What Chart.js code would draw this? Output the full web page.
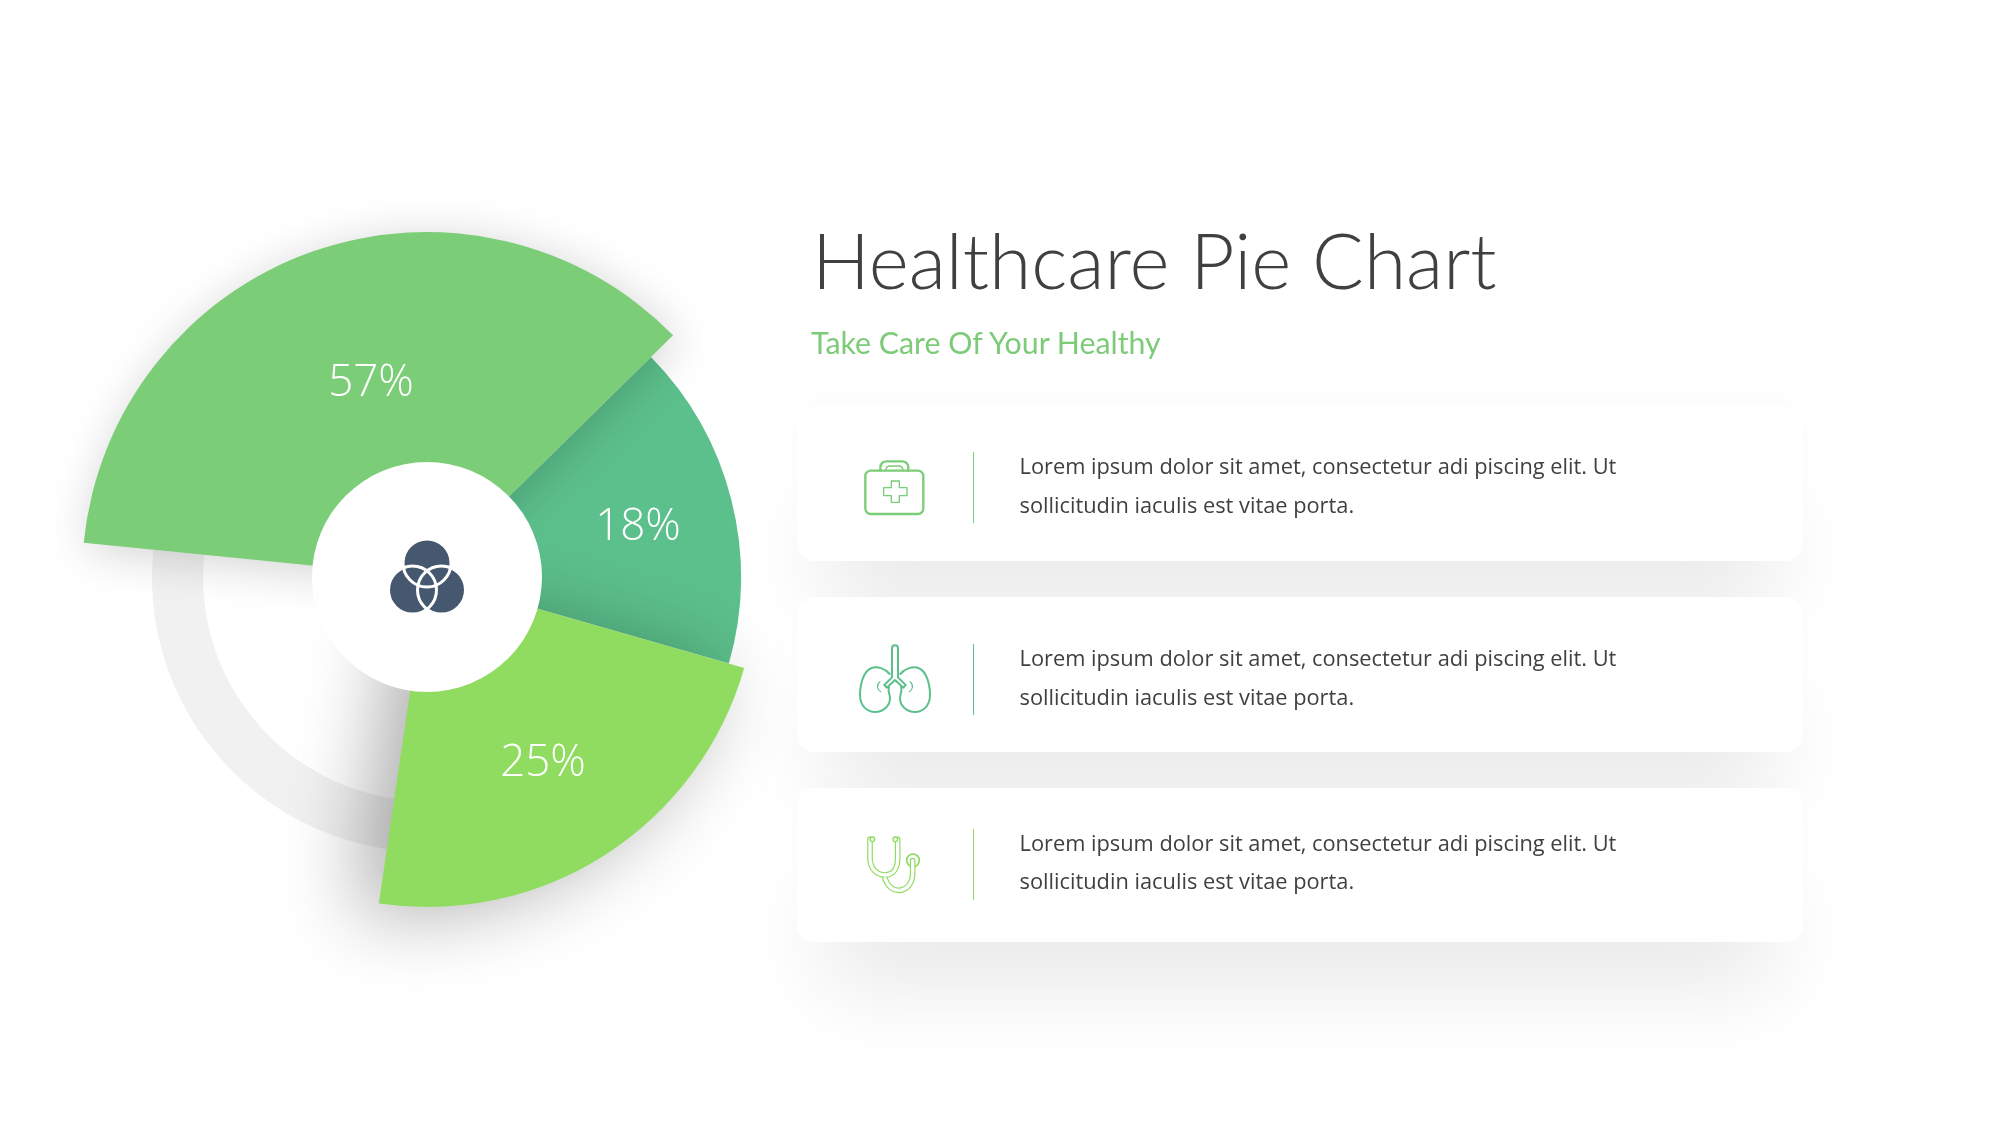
<!DOCTYPE html>
<html>
<head>
<meta charset="utf-8">
<title>Healthcare Pie Chart</title>
<script src="https://cdn.jsdelivr.net/npm/chart.js@4"></script>
<style>
  html, body { margin: 0; padding: 0; background: #fff; }
  #page { position: relative; width: 2000px; height: 1125px; overflow: hidden; background: #fff; }
  #pie { position: absolute; left: -73px; top: 77px; width: 1000px; height: 1000px; }
  .pct { position: absolute; transform: translate(-50%, -50%); color: #fff; font: 300 44px "Open Sans", sans-serif; white-space: nowrap; }
  #title { position: absolute; left: 812px; top: 217px; font: 300 76.7px Lato, sans-serif; color: #404040; white-space: nowrap; line-height: 1.1; }
  #subtitle { position: absolute; left: 811px; top: 324px; font: 400 30.3px Lato, sans-serif; color: #7ccb78; white-space: nowrap; }
  .card { position: absolute; left: 797px; width: 1006px; background: #fff; border-radius: 18px;
          box-shadow: 0 -6px 40px rgba(0,0,0,.02), 0 70px 90px -30px rgba(0,0,0,.1); }
  .rule { position: absolute; left: 176px; width: 1px; height: 71px; }
  .copy { position: absolute; left: 222.5px; font: 400 21.8px/38.5px "Open Sans", sans-serif; color: #404040; white-space: nowrap; }
  .icon { position: absolute; left: 790px; width: 400px; height: 200px; }
  #hub { position: absolute; left: 370px; top: 510px; width: 130px; height: 130px; }
</style>
</head>
<body>
<div id="page">
  <canvas id="pie" width="1000" height="1000"></canvas>
  <svg id="hub" viewBox="0 0 130 130">
    <g fill="#46586f">
      <circle cx="57" cy="53" r="24"/><circle cx="42.5" cy="80" r="24"/><circle cx="71.5" cy="80" r="24"/>
    </g>
    <g fill="none" stroke="#fff" stroke-width="3">
      <circle cx="57" cy="53" r="24"/><circle cx="42.5" cy="80" r="24"/><circle cx="71.5" cy="80" r="24"/>
    </g>
  </svg>
  <div id="labels"></div>
  <div id="title">Healthcare Pie Chart</div>
  <div id="subtitle">Take Care Of Your Healthy</div>
  <div id="cards"></div>

  <svg class="icon" style="top:400px" viewBox="0 0 1200 600" fill="none" stroke="#7ccd78" stroke-linejoin="round" stroke-linecap="round">
    <rect x="226" y="212" width="174" height="130" rx="16" stroke-width="7"/>
    <path d="M271 212v-8q0-20 20-20h44q20 0 20 20v8" stroke-width="7"/>
    <path d="M287 212q0-14 14-14h24q14 0 14 14" stroke-width="4"/>
    <path d="M304 243h24v20h23v24h-23v20h-24v-20h-23v-24h23z" stroke-width="4"/>
  </svg>
  <svg class="icon" style="top:600px" viewBox="0 0 1200 600" fill="none" stroke="#5cc08c" stroke-linejoin="round" stroke-linecap="round">
    <path d="M306 145V232L283 255L290 263L315 240L340 263L347 255L324 232V145A9 9 0 0 0 306 145Z" stroke-width="6"/>
    <g id="lung" stroke-width="6">
      <path d="M299 222C285 205 262 198 245 204C222 212 210 250 210 285C210 318 232 336 255 336C280 336 300 318 300 295C300 282 292 272 297 262"/>
      <path d="M270 245C258 255 262 270 272 275" stroke-width="3.5"/>
    </g>
    <use href="#lung" transform="matrix(-1 0 0 1 630 0)"/>
  </svg>
  <svg class="icon" style="top:780px" viewBox="0 0 1200 600" fill="none" stroke-linecap="round">
    <circle cx="369" cy="241" r="19" fill="#fff" stroke="#8edb5f" stroke-width="5"/>
    <g stroke="#8edb5f" stroke-width="17">
      <path d="M240 178V235C240 265 260 285 285 285C310 285 323 265 323 235V178"/>
      <path d="M285 296C295 322 312 331 325 331C350 331 368 310 368 280V242"/>
    </g>
    <g stroke="#fff" stroke-width="10">
      <path d="M240 178V235C240 265 260 285 285 285C310 285 323 265 323 235V178"/>
      <path d="M285 296C295 322 312 331 325 331C350 331 368 310 368 280V242"/>
    </g>
    <g stroke="#8edb5f" stroke-width="4" fill="#fff">
      <circle cx="247" cy="178" r="7"/><circle cx="316" cy="178" r="7"/>
    </g>
  </svg>
</div>

<script>
// slices in clockwise order, starting from the top edge of the 18% slice
const sliceNames = ['18%', '25%', 'Track', '57%'];
const sliceRadius = [314, 330, 275, 345];
const sliceSweep = [60.5, 82.4, 87.3, 129.8];
const sliceColors = ['#5cc08c', '#90dc60', '#f1f1f1', '#7ccd78'];

const percentLabels = ['57%', '18%', '25%'];
const percentSpots = [[371, 379], [638, 523], [543, 759]];

const bodyLine1 = 'Lorem ipsum dolor sit amet, consectetur adi piscing elit. Ut';
const bodyLine2 = 'sollicitudin iaculis est vitae porta.';
const cardTops = [406, 597, 788];
const cardHeights = [155, 155, 154];
const cardRules = ['#7ccd78', '#5cc08c', '#8edb5f'];
const copyTops = [41, 42, 35.5];
const ruleTops = [46, 47, 41];

percentLabels.forEach(function(text, i) {
    const el = document.createElement('div');
    el.className = 'pct';
    el.textContent = text;
    el.style.left = percentSpots[i][0] + 'px';
    el.style.top = percentSpots[i][1] + 'px';
    document.getElementById('labels').appendChild(el);
});

cardTops.forEach(function(top, i) {
    const card = document.createElement('div');
    card.className = 'card';
    card.style.top = top + 'px';
    card.style.height = cardHeights[i] + 'px';
    card.innerHTML = '<div class="rule" style="top:' + ruleTops[i] + 'px;background:' + cardRules[i] + '"></div>' +
        '<div class="copy" style="top:' + copyTops[i] + 'px">' + bodyLine1 + '<br>' + bodyLine2 + '</div>';
    document.getElementById('cards').appendChild(card);
});

// draw order and shadows differ from the data order: the track sits at the bottom
const drawOrder = [2, 0, 3, 1];
const sliceShadows = {
    0: { blur: 0, x: 0, y: 0, color: 'rgba(0,0,0,0)' },
    1: { blur: 80, x: -24, y: 6, color: 'rgba(0,0,0,.32)' },
    2: { blur: 0, x: 0, y: 0, color: 'rgba(0,0,0,0)' },
    3: { blur: 46, x: 4, y: 6, color: 'rgba(0,0,0,.18)' }
};
const trackInner = 224;
const holeRadius = 115;

const layeredSlices = {
    id: 'layeredSlices',
    beforeDatasetDraw(chart, args) {
        const ctx = chart.ctx;
        const arcs = chart.getDatasetMeta(args.index).data;
        arcs[2].innerRadius = trackInner;
        drawOrder.forEach(function(i) {
            const s = sliceShadows[i];
            ctx.save();
            ctx.shadowBlur = s.blur;
            ctx.shadowOffsetX = s.x;
            ctx.shadowOffsetY = s.y;
            ctx.shadowColor = s.color;
            arcs[i].draw(ctx);
            ctx.restore();
        });
        // white hub on top of everything
        ctx.save();
        ctx.fillStyle = '#fff';
        ctx.beginPath();
        ctx.arc(arcs[0].x, arcs[0].y, holeRadius, 0, Math.PI * 2);
        ctx.fill();
        ctx.restore();
        return false;
    }
};

new Chart(document.getElementById('pie'), {
    type: 'polarArea',
    data: {
        labels: sliceNames,
        datasets: [{
            data: sliceRadius,
            angle: sliceSweep,
            backgroundColor: sliceColors,
            borderWidth: 0
        }]
    },
    options: {
        responsive: false,
        animation: false,
        layout: { padding: 0 },
        plugins: { legend: { display: false }, tooltip: { enabled: false } },
        scales: {
            r: {
                min: 0,
                max: 500,
                startAngle: 45.5,
                ticks: { display: false },
                grid: { display: false },
                angleLines: { display: false },
                pointLabels: { display: false }
            }
        }
    },
    plugins: [layeredSlices]
});
</script>
</body>
</html>
